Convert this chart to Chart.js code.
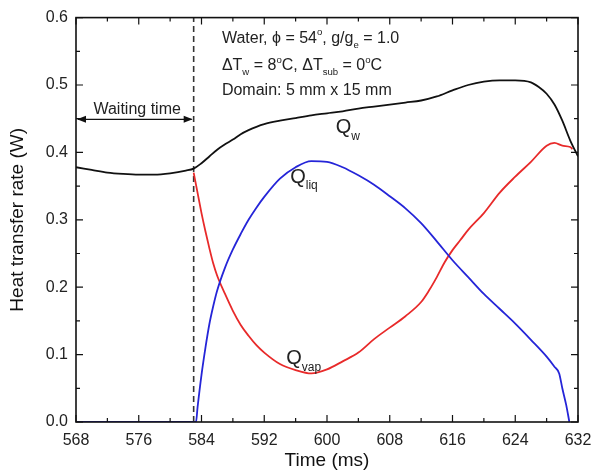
<!DOCTYPE html>
<html><head><meta charset="utf-8">
<script src="https://cdn.jsdelivr.net/npm/chart.js@4/dist/chart.umd.min.js"></script>
<style>html,body{margin:0;padding:0;background:#fff;}#wrap{width:601px;height:475px;}</style>
</head><body><div id="wrap"><canvas id="c" width="601" height="475"></canvas></div>
<script>
// ---- data ----
const timeW = [568,570,572,574,576,578,580,582,583,584,585,586,587,588,589,590,591,592,594,596,598,600,602,604,606,608,610,612,614,616,618,620,622,624,626,627,628,629,630,631,632];
const qW    = [0.378,0.374,0.370,0.368,0.367,0.367,0.369,0.373,0.376,0.384,0.394,0.404,0.412,0.419,0.427,0.433,0.438,0.442,0.447,0.451,0.455,0.458,0.461,0.465,0.468,0.471,0.474,0.477,0.483,0.492,0.500,0.505,0.507,0.507,0.504,0.497,0.487,0.471,0.447,0.418,0.394];

const timeLiq = [568,572,576,580,583,583.3,583.5,584,584.5,585,585.5,586,587,588,589,590,591,592,594,596,598,600,602,604,606,608,610,612,614,616,618,620,622,624,626,628,629,629.6,630,630.5,630.9];
const qLiq    = [0,0,0,0,0,0,0.022,0.07,0.11,0.145,0.172,0.195,0.229,0.256,0.279,0.300,0.318,0.334,0.361,0.378,0.387,0.386,0.378,0.366,0.352,0.335,0.317,0.295,0.268,0.240,0.215,0.190,0.168,0.146,0.122,0.097,0.082,0.072,0.05,0.025,0];

const timeVap = [583,583.5,584,584.5,585,585.5,586,587,588,589,590,591,592,594,596,598,600,602,604,606,608,610,612,613,614,615,616,617,618,620,622,624,626,628,629,630,631,631.3];
const qVap    = [0.370,0.34,0.31,0.283,0.258,0.235,0.217,0.19,0.165,0.144,0.128,0.114,0.103,0.086,0.077,0.072,0.078,0.090,0.103,0.123,0.140,0.157,0.178,0.195,0.215,0.237,0.255,0.27,0.285,0.31,0.34,0.364,0.386,0.41,0.414,0.41,0.408,0.405];

const xTickValues = [568,576,584,592,600,608,616,624,632];
const yTickValues = [0.0,0.1,0.2,0.3,0.4,0.5,0.6];
const waitingEnd = 583;

const FONT = '"Liberation Sans", Arial, sans-serif';

function pts(xs, ys){ return xs.map((x,i)=>({x:x, y:ys[i]})); }

function drawRich(ctx, x, y, parts, size){
  for (const p of parts){
    let fs = size, dy = 0;
    if (p.s === 'sub'){ fs = size*0.6; dy = size*0.32; }
    else if (p.s === 'sup'){ fs = size*0.6; dy = -size*0.45; }
    ctx.font = fs + 'px ' + FONT;
    ctx.fillText(p.t, x, y + dy);
    x += ctx.measureText(p.t).width;
  }
}

const decor = {
  id: 'decor',
  beforeDatasetsDraw(chart){
    const {ctx, chartArea:a, scales:{x, y}} = chart;
    ctx.save();
    const dx = x.getPixelForValue(waitingEnd);
    ctx.strokeStyle = '#333'; ctx.lineWidth = 1.6; ctx.setLineDash([6,4]);
    ctx.beginPath(); ctx.moveTo(dx, a.bottom); ctx.lineTo(dx, a.top); ctx.stroke();
    ctx.restore();
  },
  afterDatasetsDraw(chart){
    const {ctx, chartArea:a, scales:{x, y}} = chart;
    ctx.save();
    // frame
    ctx.strokeStyle = '#111'; ctx.lineWidth = 1.6; ctx.setLineDash([]);
    ctx.strokeRect(a.left, a.top, a.right - a.left, a.bottom - a.top);
    // inward ticks
    ctx.lineWidth = 1.2;
    ctx.beginPath();
    for (let v = 568; v <= 632; v += 4){
      const px = x.getPixelForValue(v);
      const len = (v - 568) % 8 === 0 ? 7 : 4;
      ctx.moveTo(px, a.bottom); ctx.lineTo(px, a.bottom - len);
      ctx.moveTo(px, a.top); ctx.lineTo(px, a.top + len);
    }
    for (let k = 0; k <= 12; k++){
      const v = k * 0.05;
      const py = y.getPixelForValue(v);
      const len = k % 2 === 0 ? 7 : 4;
      ctx.moveTo(a.left, py); ctx.lineTo(a.left + len, py);
      ctx.moveTo(a.right, py); ctx.lineTo(a.right - len, py);
    }
    ctx.stroke();

    // waiting time arrow
    const ay = y.getPixelForValue(0.449);
    const x0 = a.left, x1 = x.getPixelForValue(waitingEnd);
    ctx.strokeStyle = '#111'; ctx.fillStyle = '#111'; ctx.lineWidth = 1.2;
    ctx.beginPath(); ctx.moveTo(x0 + 2, ay); ctx.lineTo(x1 - 2, ay); ctx.stroke();
    ctx.beginPath(); ctx.moveTo(x0 + 1, ay); ctx.lineTo(x0 + 10, ay - 3.5); ctx.lineTo(x0 + 10, ay + 3.5); ctx.closePath(); ctx.fill();
    ctx.beginPath(); ctx.moveTo(x1 - 1, ay); ctx.lineTo(x1 - 10, ay - 3.5); ctx.lineTo(x1 - 10, ay + 3.5); ctx.closePath(); ctx.fill();

    ctx.fillStyle = '#222';
    ctx.textBaseline = 'middle'; ctx.textAlign = 'center';
    ctx.font = '16px ' + FONT;
    ctx.fillText('Waiting time', x.getPixelForValue(575.8), y.getPixelForValue(0.464));

    // annotation block
    ctx.textAlign = 'left'; ctx.textBaseline = 'alphabetic';
    const tx = x.getPixelForValue(586.6);
    drawRich(ctx, tx, y.getPixelForValue(0.563), [
      {t:'Water, \u03D5 = 54'},{t:'o', s:'sup'},{t:', g/g'},{t:'e', s:'sub'},{t:' = 1.0'}], 16);
    drawRich(ctx, tx, y.getPixelForValue(0.522), [
      {t:'\u0394T'},{t:'w', s:'sub'},{t:' = 8'},{t:'o', s:'sup'},{t:'C, \u0394T'},{t:'sub', s:'sub'},{t:' = 0'},{t:'o', s:'sup'},{t:'C'}], 16);
    drawRich(ctx, tx, y.getPixelForValue(0.485), [{t:'Domain: 5 mm x 15 mm'}], 16);

    // curve labels
    const qlab = (xv, yv, sub) => {
      const px = x.getPixelForValue(xv) - 7, py = y.getPixelForValue(yv) + 7;
      drawRich(ctx, px, py, [{t:'Q'},{t:sub, s:'sub'}], 20);
    };
    qlab(602.0, 0.439, 'w');
    qlab(596.2, 0.365, 'liq');
    qlab(595.7, 0.096, 'vap');
    ctx.restore();
  }
};

const lineDs = (label, data, color) => ({
  label, data, borderColor: color, borderWidth: 1.8, pointRadius: 0,
  fill: false, cubicInterpolationMode: 'monotone'
});

new Chart(document.getElementById('c'), {
  type: 'line',
  data: { datasets: [
    lineDs('Q_w', pts(timeW, qW), '#111111'),
    lineDs('Q_liq', pts(timeLiq, qLiq), '#2525d8'),
    lineDs('Q_vap', pts(timeVap, qVap), '#e82a2a')
  ]},
  options: {
    responsive: false, animation: false, devicePixelRatio: 1,
    layout: { padding: { left: 0, right: 23, top: 16, bottom: 0 } },
    plugins: { legend: { display: false }, tooltip: { enabled: false } },
    scales: {
      x: {
        type: 'linear', min: 568, max: 632,
        grid: { display: false, drawTicks: false }, border: { display: false },
        afterBuildTicks: s => { s.ticks = xTickValues.map(v => ({value: v})); },
        afterFit: s => { s.height = 53; },
        ticks: { color: '#222', font: { size: 16, family: FONT }, padding: 9, maxRotation: 0, autoSkip: false },
        title: { display: true, text: 'Time (ms)', color: '#111', font: { size: 19, family: FONT }, padding: { top: 0, bottom: 3 } }
      },
      y: {
        type: 'linear', min: 0, max: 0.6,
        grid: { display: false, drawTicks: false }, border: { display: false },
        afterBuildTicks: s => { s.ticks = yTickValues.map(v => ({value: v})); },
        afterFit: s => { s.width = 76; },
        ticks: { color: '#222', font: { size: 16, family: FONT }, padding: 8, callback: v => Number(v).toFixed(1) },
        title: { display: true, text: 'Heat transfer rate (W)', color: '#111', font: { size: 19, family: FONT }, padding: { top: 6, bottom: 0 } }
      }
    }
  },
  plugins: [decor]
});
</script></body></html>
